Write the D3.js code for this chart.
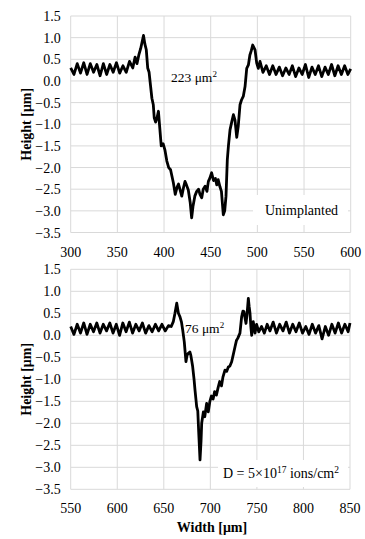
<!DOCTYPE html>
<html lang="en">
<head>
  <meta charset="UTF-8" />
  <title>height profiles</title>
  <script src="https://d3js.org/d3.v7.min.js" charset="utf-8"></script>
  <style>
    body { margin: 0; background: #fff; }
  </style>
</head>
<body>
<script type="text/javascript">

const WIDTH = 365;
const HEIGHT = 539;
const FONT = "'Liberation Serif', 'DejaVu Serif', serif";

// tick labels
const yTicks = [1.5, 1.0, 0.5, 0.0, -0.5, -1.0, -1.5, -2.0, -2.5, -3.0, -3.5];
const topXTicks = [300, 350, 400, 450, 500, 550, 600];
const botXTicks = [550, 600, 650, 700, 750, 800, 850];

// unimplanted profile
const topWidth = [300, 303.5, 307, 310.5, 314, 317.5, 321, 324.5, 328, 331.5, 335, 338.5, 342, 345.5, 349, 352.5, 356, 359.5,
  363, 366.5, 369, 371, 373, 375, 376.5, 378, 379.5, 381, 382.5, 384, 385.5,
  387, 388.5, 389.5, 391, 392.5, 394, 395.5, 397, 399, 401, 403, 405, 407, 408.5, 410, 412, 414, 415.5, 417, 419,
  421, 422.5, 424, 426, 428, 429.6, 431, 433, 435, 437, 438.5, 440.4, 442, 444, 446, 447.5, 449, 451, 453, 455,
  456.5, 458, 460, 461.5, 463.5, 465, 466.4, 467.8, 469, 470.7, 472.5, 474.3, 476, 477.9, 479.5, 481.4, 483, 485, 486.8, 488.6,
  490.4, 492, 493.5, 495, 497.5, 499.3, 501, 502.8, 506, 509.5, 513, 516.5, 520, 523.5, 527, 530.5, 534, 537.5,
  541, 544.5, 548, 551.5, 555, 558.5, 562, 565.5, 569, 572.5, 576, 579.5, 583, 586.5, 590, 593.5, 597, 600];
const topHeight = [0.3, 0.15, 0.4, 0.18, 0.42, 0.15, 0.4, 0.2, 0.38, 0.12, 0.4, 0.15, 0.38, 0.2, 0.42, 0.18, 0.35, 0.2,
  0.45, 0.3, 0.55, 0.4, 0.6, 0.75, 0.9, 1.05, 0.85, 0.72, 0.3, 0.2, -0.1,
  -0.4, -0.55, -0.85, -0.95, -0.85, -0.7, -1.1, -1.5, -1.45, -1.6, -1.85, -2.0, -2.05, -2.2, -2.35, -2.62, -2.45, -2.38, -2.5, -2.66,
  -2.45, -2.32, -2.4, -2.52, -2.8, -3.16, -2.9, -2.66, -2.55, -2.5, -2.62, -2.7, -2.5, -2.43, -2.55, -2.32, -2.25, -2.12, -2.3, -2.25,
  -2.4, -2.28, -2.45, -2.55, -3.09, -3.0, -2.66, -1.82, -1.5, -1.13, -0.95, -0.78, -0.9, -1.3, -1.05, -0.55, -0.44, -0.35, -0.13, 0.29,
  0.37, 0.6, 0.7, 0.83, 0.72, 0.41, 0.29, 0.45, 0.2, 0.35, 0.15, 0.35, 0.15, 0.32, 0.12, 0.3, 0.15, 0.35,
  0.1, 0.3, 0.15, 0.38, 0.08, 0.32, 0.15, 0.35, 0.1, 0.32, 0.15, 0.38, 0.12, 0.35, 0.15, 0.35, 0.15, 0.28];

// D = 5e17 ions/cm2 profile
const botWidth = [550, 553.5, 557, 560.5, 564, 567.5, 571, 574.5, 578, 581.5, 585, 588.5, 592, 595.5, 599, 602.5, 606, 609.5,
  613, 616.5, 620, 623.5, 627, 630.5, 634, 637.5, 641, 644.5, 648, 651.5, 655, 658, 660.2, 662, 663.9, 665.7, 667.4,
  669, 670.3, 672, 673.8, 675, 676.3, 678, 679, 681, 682.5, 683.5, 685.3, 686.5, 687.5, 688.9, 690, 690.7, 692.5, 694, 696,
  697.8, 699.5, 701.1, 703, 704.6, 706.5, 708.2, 710, 712, 713.5, 715.7, 717.5, 719.3, 721, 722.9, 724.5, 726.5, 728, 729.4, 731.8,
  733.6, 735, 736.1, 737.2, 738.3, 739.5, 740.8, 741.7, 742.6, 743.5, 744.4, 746.1, 748, 749.7, 752, 755, 758, 761, 764,
  767.5, 771, 774.5, 778, 781.5, 785, 788.5, 792, 795.5, 799, 802.5, 806, 809.5, 813, 816.5, 820, 823.5, 827, 830.5,
  834, 837.5, 841, 844.5, 848, 850];
const botHeight = [0.2, 0.02, 0.25, 0.05, 0.28, 0.02, 0.25, 0.08, 0.28, 0.05, 0.25, 0.1, 0.28, 0.05, 0.25, 0.0, 0.28, 0.08,
  0.3, 0.05, 0.25, 0.1, 0.28, 0.05, 0.22, 0.08, 0.25, 0.1, 0.25, 0.1, 0.22, 0.2, 0.31, 0.5, 0.73, 0.5, 0.42,
  0.3, 0.12, -0.15, -0.6, -0.45, -0.41, -0.38, -0.45, -0.71, -1.0, -1.24, -1.62, -1.72, -2.2, -2.83, -2.4, -2.0, -1.74, -1.85, -1.55,
  -1.74, -1.5, -1.38, -1.45, -1.28, -1.36, -1.2, -1.05, -1.15, -0.95, -0.79, -0.82, -0.72, -0.7, -0.6, -0.45, -0.26, -0.12, -0.07, 0.05,
  0.42, 0.55, 0.54, 0.4, 0.27, 0.5, 0.84, 0.65, 0.5, 0.2, 0.0, 0.31, 0.05, 0.25, 0.08, 0.2, 0.05, 0.25, 0.1,
  0.3, 0.05, 0.25, 0.1, 0.3, 0.05, 0.25, 0.08, 0.28, 0.05, 0.2, 0.02, 0.25, 0.05, 0.22, -0.08, 0.2, 0.0, 0.25,
  0.05, 0.28, 0.05, 0.25, 0.08, 0.28];

const svg = d3.select("body")
  .append("svg")
    .attr("width", WIDTH)
    .attr("height", HEIGHT)
    .attr("font-family", FONT);

function drawPanel(opt) {
  const x = d3.scaleLinear().domain(opt.xDomain).range([opt.left, opt.right]);
  const y = d3.scaleLinear().domain([-3.5, 1.5]).range([opt.bottom, opt.top]);
  const g = svg.append("g");

  // grid
  g.append("g")
    .selectAll("line")
    .data(yTicks)
    .join("line")
      .attr("x1", opt.left).attr("x2", opt.right)
      .attr("y1", d => y(d)).attr("y2", d => y(d))
      .attr("stroke", "#d9d9d9").attr("stroke-width", 1);
  g.append("g")
    .selectAll("line")
    .data(opt.xTicks)
    .join("line")
      .attr("x1", d => x(d)).attr("x2", d => x(d))
      .attr("y1", opt.top).attr("y2", opt.bottom)
      .attr("stroke", "#d9d9d9").attr("stroke-width", 1);

  // tick labels
  g.append("g")
    .selectAll("text")
    .data(yTicks)
    .join("text")
      .attr("x", opt.left - 10)
      .attr("y", d => y(d) + 5)
      .attr("text-anchor", "end")
      .attr("font-size", "14px")
      .text(d => d3.format(".1f")(d));
  g.append("g")
    .selectAll("text")
    .data(opt.xTicks)
    .join("text")
      .attr("x", d => x(d))
      .attr("y", opt.bottom + 24)
      .attr("text-anchor", "middle")
      .attr("font-size", "14px")
      .text(d => d);

  g.append("text")
    .attr("transform", `translate(${26},${(opt.top + opt.bottom) / 2}) rotate(-90)`)
    .attr("text-anchor", "middle")
    .attr("dy", "0.35em")
    .attr("font-size", "14px")
    .attr("font-weight", "bold")
    .text("Height  [\u03bcm]");

  // profile
  const pts = opt.xs.map((v, i) => [v, opt.ys[i]]);
  g.append("path")
    .datum(pts)
    .attr("fill", "none")
    .attr("stroke", "#000")
    .attr("stroke-width", 2.8)
    .attr("stroke-linejoin", "round")
    .attr("d", d3.line().x(d => x(d[0])).y(d => y(d[1])));

  // area label
  const area = g.append("text")
    .attr("x", opt.areaX)
    .attr("y", opt.areaY)
    .attr("font-size", "13.5px");
  area.append("tspan").text(opt.areaText + " \u03bcm");
  area.append("tspan").attr("font-size", "9px").attr("dy", "-5").text("2");

  // sample label with white box
  g.append("rect")
    .attr("x", opt.box[0]).attr("y", opt.box[1])
    .attr("width", opt.box[2]).attr("height", opt.box[3])
    .attr("fill", "#fff");
  return { g, x, y };
}

const topPanel = drawPanel({
  xDomain: [300, 600], xTicks: topXTicks, xs: topWidth, ys: topHeight,
  left: 70.7, right: 350.7, top: 16, bottom: 232.5,
  areaText: "223", areaX: 171, areaY: 82,
  box: [253, 195, 95, 30]
});
topPanel.g.append("text")
  .attr("x", 265).attr("y", 215)
  .attr("font-size", "14px")
  .text("Unimplanted");

const botPanel = drawPanel({
  xDomain: [550, 850], xTicks: botXTicks, xs: botWidth, ys: botHeight,
  left: 70.7, right: 350, top: 269.3, bottom: 489.3,
  areaText: "76", areaX: 185, areaY: 333,
  box: [218, 460, 130, 27]
});
const dose = botPanel.g.append("text")
  .attr("x", 223).attr("y", 478)
  .attr("font-size", "14px");
dose.append("tspan").text("D = 5\u00d710");
dose.append("tspan").attr("font-size", "9.5px").attr("dy", "-5").text("17");
dose.append("tspan").attr("dy", "5").text(" ions/cm");
dose.append("tspan").attr("font-size", "9.5px").attr("dy", "-5").text("2");

svg.append("text")
  .attr("x", 212).attr("y", 532)
  .attr("text-anchor", "middle")
  .attr("font-size", "14px")
  .attr("font-weight", "bold")
  .text("Width  [\u03bcm]");

</script>
</body>
</html>
